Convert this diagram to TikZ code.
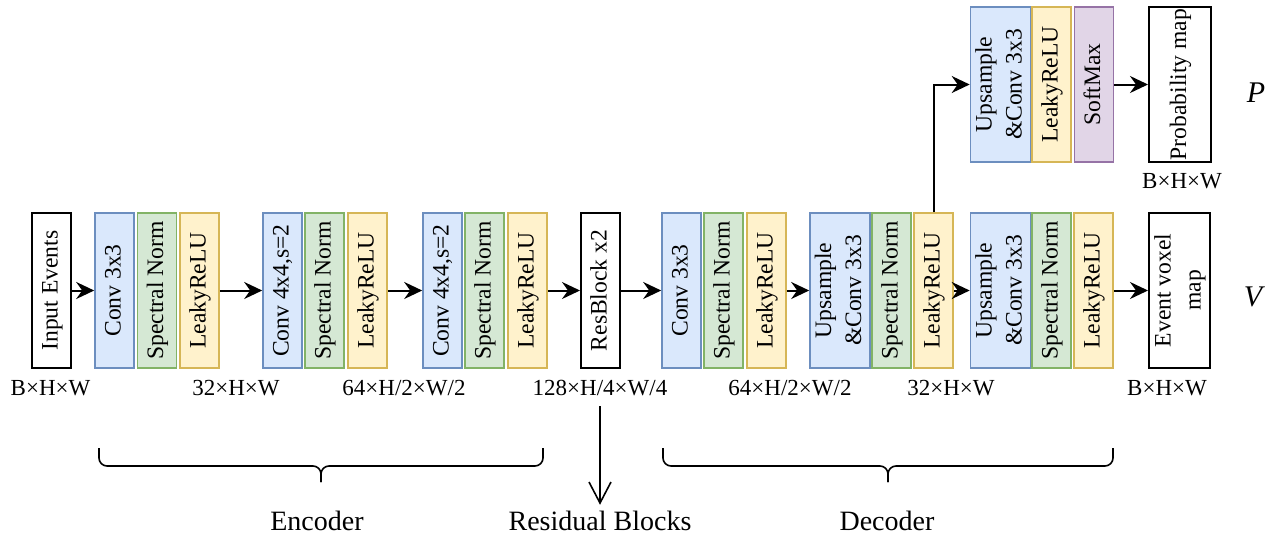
\documentclass[tikz,border=0pt]{standalone}
\usepackage{fontspec}
\setmainfont{Liberation Serif}
\usepackage{graphicx}
\usepackage{xcolor}
\usetikzlibrary{arrows.meta}

\definecolor{convfill}{HTML}{DAE8FC}
\definecolor{convline}{HTML}{6C8EBF}
\definecolor{normfill}{HTML}{D5E8D4}
\definecolor{normline}{HTML}{82B366}
\definecolor{relufill}{HTML}{FFF2CC}
\definecolor{reluline}{HTML}{D6B656}
\definecolor{softfill}{HTML}{E1D5E7}
\definecolor{softline}{HTML}{9673A6}

\newcommand{\vtext}[1]{\rotatebox{90}{\begin{tabular}{@{}c@{}}#1\end{tabular}}}

\begin{document}
\begin{tikzpicture}[x = 0.5pt, y = -0.5pt,
	blk/.style = {draw, line width = 0.8pt, minimum width = 19.5pt, minimum height = 77.5pt, inner sep = 0pt, font = \fontsize{11.8}{15}\selectfont},
	conv/.style = {blk, fill = convfill, draw = convline},
	norm/.style = {blk, fill = normfill, draw = normline},
	relu/.style = {blk, fill = relufill, draw = reluline},
	soft/.style = {blk, fill = softfill, draw = softline},
	plain/.style = {blk, draw = black, line width = 1pt},
	dims/.style = {inner sep = 0pt, font = \fontsize{11.5}{14}\selectfont},
	part/.style = {inner sep = 0pt, font = \fontsize{14}{16}\selectfont},
	conn/.style = {-{Stealth[length = 9pt, width = 8.5pt, inset = 3pt]}, line width = 1pt},
	brc/.style = {line width = 0.8pt, rounded corners = 4pt}]
	\useasboundingbox (0,0) rectangle (1271,536);
	
	\node[plain] (inp) at (51.5,290.5) {\vtext{Input Events}};
	
	\node[conv] (c1) at (114.5,290.5) {\vtext{Conv 3x3}};
	\node[norm] (n1) at (157,290.5) {\vtext{Spectral Norm}};
	\node[relu] (r1) at (199.5,290.5) {\vtext{LeakyReLU}};
	
	\node[conv] (c2) at (282.5,290.5) {\vtext{Conv 4x4,s=2}};
	\node[norm] (n2) at (324.5,290.5) {\vtext{Spectral Norm}};
	\node[relu] (r2) at (367.5,290.5) {\vtext{LeakyReLU}};
	
	\node[conv] (c3) at (442.5,290.5) {\vtext{Conv 4x4,s=2}};
	\node[norm] (n3) at (484.5,290.5) {\vtext{Spectral Norm}};
	\node[relu] (r3) at (527.5,290.5) {\vtext{LeakyReLU}};
	
	\node[plain] (res) at (600.5,290.5) {\vtext{ResBlock x2}};
	
	\node[conv] (dc1) at (681.5,290.5) {\vtext{Conv 3x3}};
	\node[norm] (dn1) at (723.5,290.5) {\vtext{Spectral Norm}};
	\node[relu] (dr1) at (766.5,290.5) {\vtext{LeakyReLU}};
	
	\node[conv, minimum width = 29pt] (dc2) at (840,290.5) {\vtext{Upsample\\\&Conv 3x3}};
	\node[norm] (dn2) at (891.5,290.5) {\vtext{Spectral Norm}};
	\node[relu] (dr2) at (933.5,290.5) {\vtext{LeakyReLU}};
	
	\node[conv, minimum width = 29pt] (dc3) at (1000.5,290.5) {\vtext{Upsample\\\&Conv 3x3}};
	\node[norm] (dn3) at (1051.5,290.5) {\vtext{Spectral Norm}};
	\node[relu] (dr3) at (1093.5,290.5) {\vtext{LeakyReLU}};
	
	\node[plain, minimum width = 30.5pt] (vox) at (1179.5,290.5) {\vtext{Event voxel\\map}};
	
	\node[conv, minimum width = 29pt] (pc) at (1000.5,84.5) {\vtext{Upsample\\\&Conv 3x3}};
	\node[relu] (pr) at (1051.5,84.5) {\vtext{LeakyReLU}};
	\node[soft] (ps) at (1094,84.5) {\vtext{SoftMax}};
	\node[plain, minimum width = 31pt] (prob) at (1180,84.5) {\vtext{Probability map}};
	
	\node[dims] (d0) at (50.5,388) {B×H×W};
	\node[dims] (d1) at (236,388) {32×H×W};
	\node[dims] (d2) at (404,388) {64×H/2×W/2};
	\node[dims] (d3) at (600,388) {128×H/4×W/4};
	\node[dims] (d4) at (790,388) {64×H/2×W/2};
	\node[dims] (d5) at (951,388) {32×H×W};
	\node[dims] (d6) at (1167,388) {B×H×W};
	\node[dims] (d7) at (1182,181) {B×H×W};
	
	\node[font = \fontsize{15}{17}\selectfont\itshape] (vlab) at (1253,297) {V};
	\node[font = \fontsize{15}{17}\selectfont\itshape] (plab) at (1256,93) {P};
	
	\draw[conn] (inp) -- (c1);
	\draw[conn] (r1) -- (c2);
	\draw[conn] (r2) -- (c3);
	\draw[conn] (r3) -- (res);
	\draw[conn] (res) -- (dc1);
	\draw[conn] (dr1) -- (dc2);
	\draw[conn] (dr2) -- (dc3);
	\draw[conn] (dr3) -- (vox);
	\draw[conn] (dr2.north) |- (pc.west);
	\draw[conn] (ps) -- (prob);
	
	\draw[brc] (99,448) -- (99,466) -- (321,466) -- (321,482);
	\draw[brc] (543,448) -- (543,466) -- (321,466) -- (321,482);
	\draw[brc] (663,448) -- (663,466) -- (888,466) -- (888,482);
	\draw[brc] (1113,448) -- (1113,466) -- (888,466) -- (888,482);
	
	\node[part] (enc) at (317,521) {Encoder};
	\node[part] (rbl) at (600,521) {Residual Blocks};
	\node[part] (dec) at (887,521) {Decoder};
	
	\draw[-{Straight Barb[length = 10.5pt, width = 11pt]}, line width = 0.8pt, shorten <= 5pt, shorten >= 3pt] (d3.south) -- (rbl.north);
	
\end{tikzpicture}
\end{document}
